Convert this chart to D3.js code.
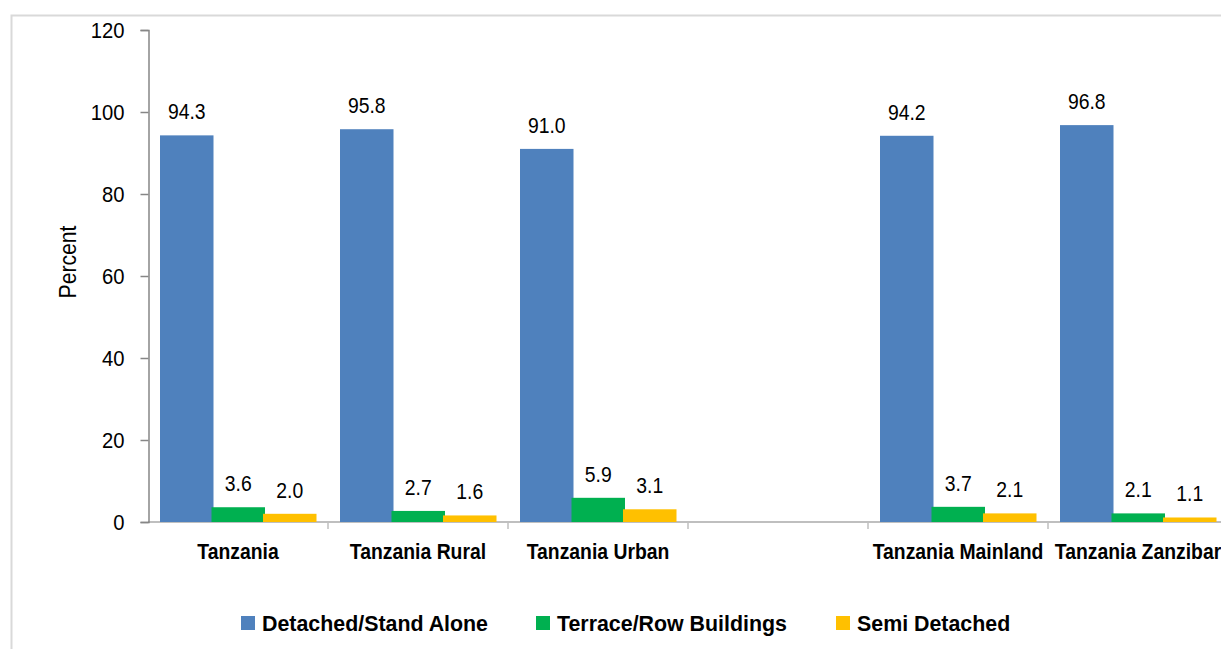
<!DOCTYPE html>
<html>
  <head>
    <meta charset="utf-8">
    <title>Dwelling Type</title>
    <script src="https://d3js.org/d3.v7.min.js"></script>
    <style>
      body { margin: 0; background: #fff; }
      text { font-family: "Liberation Sans", Arial, sans-serif; fill: #000; }
    </style>
  </head>
  <body>
    <div id="chart"></div>
    <script>
      // Chart data
      const categories = ["Tanzania", "Tanzania Rural", "Tanzania Urban", "", "Tanzania Mainland", "Tanzania Zanzibar"];
      const seriesNames = ["Detached/Stand Alone", "Terrace/Row Buildings", "Semi Detached"];
      const detached = [94.3, 95.8, 91.0, null, 94.2, 96.8];
      const terrace = [3.6, 2.7, 5.9, null, 3.7, 2.1];
      const semi = [2.0, 1.6, 3.1, null, 2.1, 1.1];
      const yTicks = [0, 20, 40, 60, 80, 100, 120];
      const colors = ["#4f81bd", "#00b050", "#ffc000"];

      const seriesValues = [detached, terrace, semi];
      const W = 1221, H = 649;
      const narrow = 0.88; // the original uses a condensed face

      const svg = d3.select("#chart")
        .append("svg")
        .attr("width", W)
        .attr("height", H);

      // outer chart border (runs off the right/bottom edge)
      svg.append("rect")
        .attr("x", 11.5).attr("y", 15.5)
        .attr("width", 1260).attr("height", 700)
        .attr("fill", "none")
        .attr("stroke", "#d9d9d9")
        .attr("stroke-width", 2);

      // scales
      const x0 = d3.scaleBand()
        .domain(categories)
        .range([148, 1228]);
      const x1 = d3.scaleBand()
        .domain(seriesNames)
        .range([12, 12 + 3 * 51.5]);
      const barW = x1.bandwidth() + 2;
      const y = d3.scaleLinear()
        .domain([0, 120])
        .range([522, 30]);

      // x axis line and ticks at band edges
      svg.append("line")
        .attr("x1", 148).attr("x2", 1228)
        .attr("y1", y(0)).attr("y2", y(0))
        .attr("stroke", "#bfbfbf").attr("stroke-width", 2);
      svg.selectAll(".xtick")
        .data(categories.slice(1).concat(["end"]))
        .enter().append("line")
        .attr("class", "xtick")
        .attr("x1", (d, i) => x0.range()[0] + (i + 1) * x0.step())
        .attr("x2", (d, i) => x0.range()[0] + (i + 1) * x0.step())
        .attr("y1", y(0)).attr("y2", y(0) + 7)
        .attr("stroke", "#bfbfbf").attr("stroke-width", 1.5);

      // y axis
      const yAxis = d3.axisLeft(y)
        .tickValues(yTicks)
        .tickSize(8)
        .tickPadding(16)
        .tickFormat(d3.format("d"));
      const gy = svg.append("g")
        .attr("transform", "translate(148.5,0)")
        .call(yAxis);
      gy.select(".domain").attr("stroke", "#868686").attr("stroke-width", 1.5);
      gy.selectAll(".tick line").attr("stroke", "#868686").attr("stroke-width", 1.5);
      gy.selectAll(".tick text")
        .attr("x", null)
        .attr("transform", "translate(-24,0) scale(0.92,1)")
        .style("font-family", "'Liberation Sans', Arial, sans-serif")
        .style("font-size", "22px")
        .attr("fill", "#000");

      // y label
      svg.append("text")
        .attr("transform", "translate(76,262) rotate(-90) scale(0.92,1)")
        .attr("text-anchor", "middle")
        .style("font-size", "23px")
        .text("Percent");

      // bars
      const groups = svg.selectAll(".grp")
        .data(categories)
        .enter().append("g")
        .attr("class", "grp")
        .attr("transform", d => `translate(${x0(d)},0)`);

      seriesNames.forEach((s, si) => {
        const val = d => seriesValues[si][categories.indexOf(d)];
        const has = groups.filter((d, i) => seriesValues[si][i] != null);
        has.append("rect")
          .attr("x", x1(s))
          .attr("width", barW)
          .attr("y", d => y(val(d)))
          .attr("height", d => y(0) - y(val(d)))
          .attr("fill", colors[si]);
        has.append("text")
          .attr("transform", d => `translate(${x1(s) + barW / 2},${y(val(d)) - 16}) scale(${narrow},1)`)
          .attr("text-anchor", "middle")
          .style("font-size", "22px")
          .text(d => d3.format(".1f")(val(d)));
      });

      // category labels
      svg.selectAll(".cat")
        .data(categories)
        .enter().append("text")
        .attr("class", "cat")
        .attr("transform", d => `translate(${x0(d) + x0.bandwidth() / 2},559) scale(${narrow},1)`)
        .attr("text-anchor", "middle")
        .style("font-size", "22px")
        .style("font-weight", "bold")
        .text(d => d);

      // legend
      const legendX = [241, 536, 836];
      const legend = svg.selectAll(".leg")
        .data(seriesNames)
        .enter().append("g")
        .attr("class", "leg")
        .attr("transform", (d, i) => `translate(${legendX[i]},616)`);
      legend.append("rect")
        .attr("width", 14).attr("height", 14)
        .attr("fill", (d, i) => colors[i]);
      legend.append("text")
        .attr("transform", "translate(21,14.5) scale(0.93,1)")
        .style("font-size", "23px")
        .style("font-weight", "bold")
        .text(d => d);
    </script>
  </body>
</html>
